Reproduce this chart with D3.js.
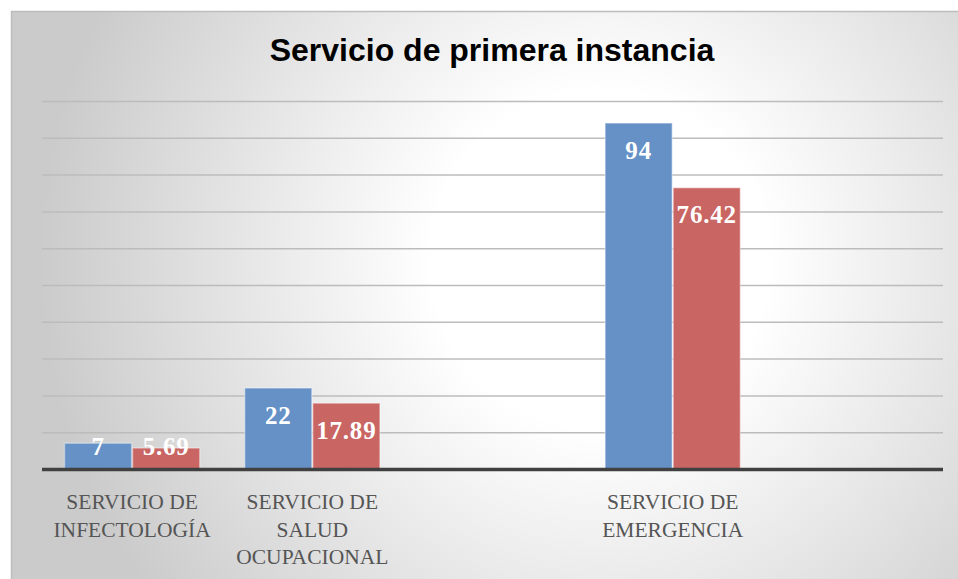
<!DOCTYPE html>
<html>
<head>
<meta charset="utf-8">
<script src="https://cdn.jsdelivr.net/npm/d3@7"></script>
<style>
  html, body { margin: 0; padding: 0; background: #fff; }
  svg { display: block; }
</style>
</head>
<body>
<div id="chart"></div>
<script>
(function () {
  const W = 958, H = 579;

  // ---------- data ----------
  const categories = [
    'SERVICIO DE INFECTOLOGÍA',
    'SERVICIO DE SALUD OCUPACIONAL',
    '',
    'SERVICIO DE EMERGENCIA',
    ''
  ];
  const seriesNames = ['Serie 1', 'Serie 2'];
  const serie1 = [7, 22, null, 94, null];
  const serie2 = [5.69, 17.89, null, 76.42, null];
  const yTicks = [0, 10, 20, 30, 40, 50, 60, 70, 80, 90, 100];
  const colors = ['#6591c7', '#c96562'];

  const margin = { left: 42, right: 15, top: 101, bottom: 110 };
  const plotRight = W - margin.right;
  const baseY = H - margin.bottom;

  const svg = d3.select('#chart').append('svg')
    .attr('width', W).attr('height', H);

  // background: radial grey-to-white fill like the original
  const defs = svg.append('defs');
  const grad = defs.append('radialGradient')
    .attr('id', 'bg')
    .attr('gradientUnits', 'userSpaceOnUse')
    .attr('cx', 600).attr('cy', 260).attr('r', 560);
  grad.append('stop').attr('offset', '0%').attr('stop-color', '#ffffff');
  grad.append('stop').attr('offset', '30%').attr('stop-color', '#ffffff');
  grad.append('stop').attr('offset', '100%').attr('stop-color', '#cbcbcb');

  svg.append('rect')
    .attr('x', 11.5).attr('y', 11.5)
    .attr('width', W).attr('height', H)
    .attr('fill', 'url(#bg)')
    .attr('stroke', '#bdbdbd')
    .attr('stroke-width', 1.5);

  // ---------- scales ----------
  const x0 = d3.scaleBand()
    .domain(d3.range(categories.length))
    .range([margin.left, plotRight])
    .padding(0);
  const bw = x0.bandwidth();
  const x1 = d3.scaleBand()
    .domain(seriesNames)
    .range([bw * 0.125, bw * 0.875])
    .paddingInner(0.015);
  const y = d3.scaleLinear()
    .domain([0, 100])
    .range([baseY, margin.top]);

  // ---------- gridlines ----------
  const grid = svg.append('g')
    .attr('transform', `translate(${margin.left},0)`)
    .call(d3.axisLeft(y).tickValues(yTicks.slice(1)).tickSize(-(plotRight - margin.left)).tickFormat(''));
  grid.select('.domain').remove();
  grid.selectAll('line').attr('stroke', '#bcbcbc').attr('stroke-width', 1.5);

  // ---------- bars ----------
  const rows = categories.map((c, i) => ({ i, values: [serie1[i], serie2[i]] }));
  const groups = svg.append('g').selectAll('g')
    .data(rows)
    .join('g')
    .attr('transform', d => `translate(${x0(d.i)},0)`);

  const cells = groups.selectAll('g.cell')
    .data(d => d.values.map((v, k) => ({ v, k })).filter(e => e.v !== null))
    .join('g').attr('class', 'cell');

  cells.append('rect')
    .attr('x', d => x1(seriesNames[d.k]))
    .attr('y', d => y(d.v))
    .attr('width', x1.bandwidth())
    .attr('height', d => y(0) - y(d.v))
    .attr('fill', d => colors[d.k])
    .attr('stroke', 'rgba(255,255,255,0.35)')
    .attr('stroke-width', 1.5);

  // data labels: inside end, pushed up when the bar is too short
  cells.append('text')
    .attr('x', d => x1(seriesNames[d.k]) + x1.bandwidth() / 2)
    .attr('y', d => Math.min(y(d.v) + 27, baseY - 23) + 8.5)
    .attr('text-anchor', 'middle')
    .attr('fill', '#ffffff')
    .style('font-family', '"Liberation Serif", "DejaVu Serif", serif')
    .style('font-weight', 'bold')
    .style('font-size', '25px')
    .style('letter-spacing', '0.8px')
    .text(d => d.v);

  // ---------- baseline ----------
  svg.append('line')
    .attr('x1', margin.left).attr('x2', plotRight)
    .attr('y1', y(0) + 0.5).attr('y2', y(0) + 0.5)
    .attr('stroke', '#404040')
    .attr('stroke-width', 3.5);

  // ---------- category labels (wrapped to the slot) ----------
  const labels = svg.append('g');
  categories.forEach((c, i) => {
    if (!c) return;
    const cx = x0(i) + bw / 2;
    const t = labels.append('text')
      .attr('x', cx)
      .attr('y', 509)
      .attr('text-anchor', 'middle')
      .attr('fill', '#555555')
      .style('font-family', '"Liberation Serif", "DejaVu Serif", serif')
      .style('font-size', '21.5px');
    const words = c.split(' ');
    let line = [];
    let tspan = t.append('tspan').attr('x', cx).attr('dy', 0);
    words.forEach(w => {
      line.push(w);
      tspan.text(line.join(' '));
      if (tspan.node().getComputedTextLength() > 170 && line.length > 1) {
        line.pop();
        tspan.text(line.join(' '));
        line = [w];
        tspan = t.append('tspan').attr('x', cx).attr('dy', 27.5).text(w);
      }
    });
  });

  // ---------- title ----------
  svg.append('text')
    .attr('x', 492)
    .attr('y', 61)
    .attr('text-anchor', 'middle')
    .attr('fill', '#000')
    .style('font-family', '"Liberation Sans", Arial, sans-serif')
    .style('font-weight', 'bold')
    .style('font-size', '32px')
    .text('Servicio de primera instancia');
})();
</script>
</body>
</html>
